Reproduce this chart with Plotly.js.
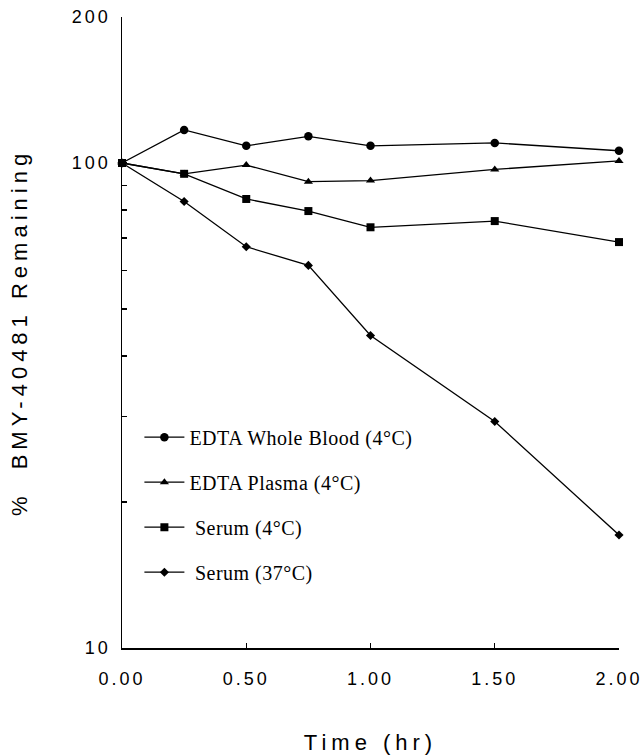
<!DOCTYPE html>
<html>
<head>
<meta charset="utf-8">
<script src="https://cdn.plot.ly/plotly-3.0.1.min.js"></script>
<style>
  html, body { margin: 0; padding: 0; background: #fff; }
  #chart { width: 643px; height: 755px; }
  .xtitle, .ytitle { letter-spacing: 5px; }
  .xtick text, .ytick text { letter-spacing: 3px; }
  .legendtext { letter-spacing: 0.5px; }
</style>
</head>
<body>
<div id="chart"></div>
<script>
// Time points (hr)
const timeHr = [0, 0.25, 0.5, 0.75, 1.0, 1.5, 2.0];

// % BMY-40481 remaining
const wholeBlood4C = [100, 117, 108.5, 113.5, 108.5, 110, 106];
const plasma4C     = [100, 95, 99, 91.5, 92, 97, 101];
const serum4C      = [100, 95, 84.3, 79.6, 73.7, 75.9, 68.7];
const serum37C     = [100, 83.3, 67.2, 61.5, 44.1, 29.3, 17.1];

const seriesNames = [
  "EDTA Whole Blood (4°C)",
  "EDTA Plasma (4°C)",
  "\u00a0Serum (4°C)",
  "\u00a0Serum (37°C)"
];

const xTickVals = [0, 0.5, 1.0, 1.5, 2.0];
const xTickText = ["0.00", "0.50", "1.00", "1.50", "2.00"];
const yTickVals = [10, 20, 30, 40, 50, 60, 70, 80, 90, 100, 200];
const yTickText = ["10", "", "", "", "", "", "", "", "", "100", "200"];

const seriesValues = [wholeBlood4C, plasma4C, serum4C, serum37C];
const symbols = ["circle", "triangle-up", "square", "diamond"];
const sizes = [8.5, 8, 8, 7];

const traces = seriesValues.map((vals, i) => ({
  x: timeHr,
  y: vals,
  name: seriesNames[i],
  legendgroup: "g" + i,
  type: "scatter",
  mode: "lines+markers",
  line: { color: "#000", width: 1.3 },
  marker: { color: "#000", symbol: symbols[i], size: sizes[i] },
  cliponaxis: false
}));

const sans = "Liberation Sans, Arial, sans-serif";

const layout = {
  width: 643,
  height: 755,
  margin: { l: 122, r: 24, t: 17, b: 107 },
  paper_bgcolor: "#fff",
  plot_bgcolor: "#fff",
  showlegend: true,
  legend: {
    x: 0.035, y: 0.365, xanchor: "left", yanchor: "top",
    bgcolor: "rgba(0,0,0,0)",
    font: { family: "Liberation Serif, Times New Roman, serif", size: 20, color: "#000" },
    tracegroupgap: 16,
    itemwidth: 40
  },
  xaxis: {
    range: [0, 2],
    tickmode: "array",
    tickvals: xTickVals,
    ticktext: xTickText,
    ticks: "inside",
    ticklen: 5,
    tickwidth: 1.3,
    tickcolor: "#000",
    showline: true,
    linecolor: "#000",
    linewidth: 1.5,
    showgrid: false,
    zeroline: false,
    ticklabelstandoff: 14,
    tickfont: { family: sans, size: 18, color: "#000" },
    title: {
      text: "Time (hr)",
      font: { family: sans, size: 22, color: "#000" },
      standoff: 46
    }
  },
  yaxis: {
    type: "log",
    range: [1, Math.log10(200)],
    tickmode: "array",
    tickvals: yTickVals,
    ticktext: yTickText,
    ticks: "inside",
    ticklen: 5,
    tickwidth: 1.3,
    tickcolor: "#000",
    showline: true,
    linecolor: "#000",
    linewidth: 1.5,
    showgrid: false,
    zeroline: false,
    ticklabelstandoff: 6,
    tickfont: { family: sans, size: 18, color: "#000" },
    title: {
      text: "%  BMY-40481 Remaining\u00a0",
      font: { family: sans, size: 22, color: "#000" },
      standoff: 38
    }
  }
};

Plotly.newPlot("chart", traces, layout, { displayModeBar: false, staticPlot: true });
</script>
</body>
</html>
